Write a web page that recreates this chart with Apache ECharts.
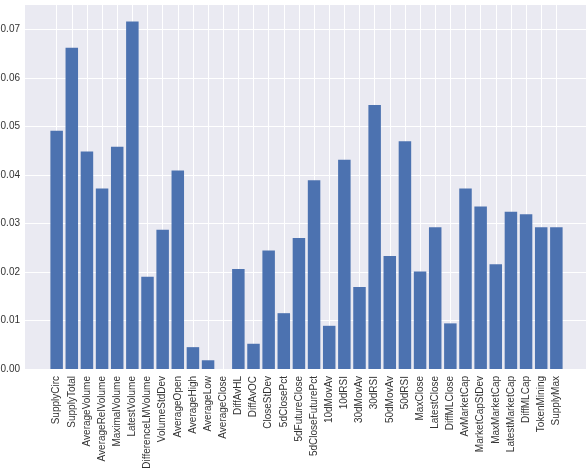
<!DOCTYPE html>
<html>
<head>
<meta charset="utf-8">
<script src="https://cdn.jsdelivr.net/npm/echarts@6/dist/echarts.min.js"></script>
<style>
  html, body { margin: 0; padding: 0; background: #fff; }
  #chart { width: 586px; height: 469px; }
</style>
</head>
<body>
<div id="chart"></div>
<script>
const features = [
  'SupplyCirc', 'SupplyTotal', 'AverageVolume', 'AverageRelVolume', 'MaximalVolume',
  'LatestVolume', 'DifferenceLMVolume', 'VolumeStdDev', 'AverageOpen', 'AverageHigh',
  'AverageLow', 'AverageClose', 'DiffAvHL', 'DiffAvOC', 'CloseStDev', '5dClosePct',
  '5dFutureClose', '5dCloseFuturePct', '10dMovAv', '10dRSI', '30dMovAv', '30dRSI',
  '50dMovAv', '50dRSI', 'MaxClose', 'LatestClose', 'DiffMLClose', 'AvMarketCap',
  'MarketCapStDev', 'MaxMarketCap', 'LatestMarketCap', 'DiffMLCap', 'TokenMining', 'SupplyMax'
]
const importance = [
  0.0491, 0.0662, 0.0448, 0.0372, 0.0458,
  0.0716, 0.0190, 0.0287, 0.0409, 0.0045,
  0.0018, 0.0000, 0.0206, 0.0052, 0.0244, 0.0115,
  0.0270, 0.0389, 0.0089, 0.0431, 0.0169, 0.0544,
  0.0233, 0.0469, 0.0201, 0.0292, 0.0094, 0.0372,
  0.0335, 0.0216, 0.0324, 0.0319, 0.0292, 0.0292
]

const positions = features.map((_, i) => i)
const chart = echarts.init(document.getElementById('chart'))

chart.setOption({
  animation: false,
  backgroundColor: '#ffffff',
  grid: {
    left: 25,
    right: -2,
    top: 4,
    bottom: 100,
    outerBoundsMode: 'none',
    containLabel: false,
    show: true,
    backgroundColor: '#EAEAF2',
    borderWidth: 0
  },
  xAxis: {
    type: 'value',
    min: -2.09,
    max: 35.09,
    axisLine: { show: false },
    axisTick: { show: false, customValues: positions },
    splitLine: { show: true, lineStyle: { color: '#ffffff', width: 1 } },
    axisLabel: {
      customValues: positions,
      rotate: 90,
      margin: 7,
      fontFamily: 'Liberation Sans',
      fontSize: 10,
      color: '#333333',
      formatter: (v) => features[Math.round(v)] || ''
    }
  },
  yAxis: {
    type: 'value',
    min: 0,
    max: 0.0752,
    interval: 0.01,
    axisLine: { show: false },
    axisTick: { show: false },
    splitLine: { show: true, lineStyle: { color: '#ffffff', width: 1 } },
    axisLabel: {
      showMaxLabel: false,
      margin: 5,
      fontFamily: 'Liberation Sans',
      fontSize: 10,
      color: '#333333',
      formatter: (v) => v.toFixed(2)
    }
  },
  series: [{
    type: 'bar',
    barWidth: 12.5,
    data: importance.map((v, i) => [positions[i], v]),
    itemStyle: { color: '#4C72B0' }
  }]
})
</script>
</body>
</html>
